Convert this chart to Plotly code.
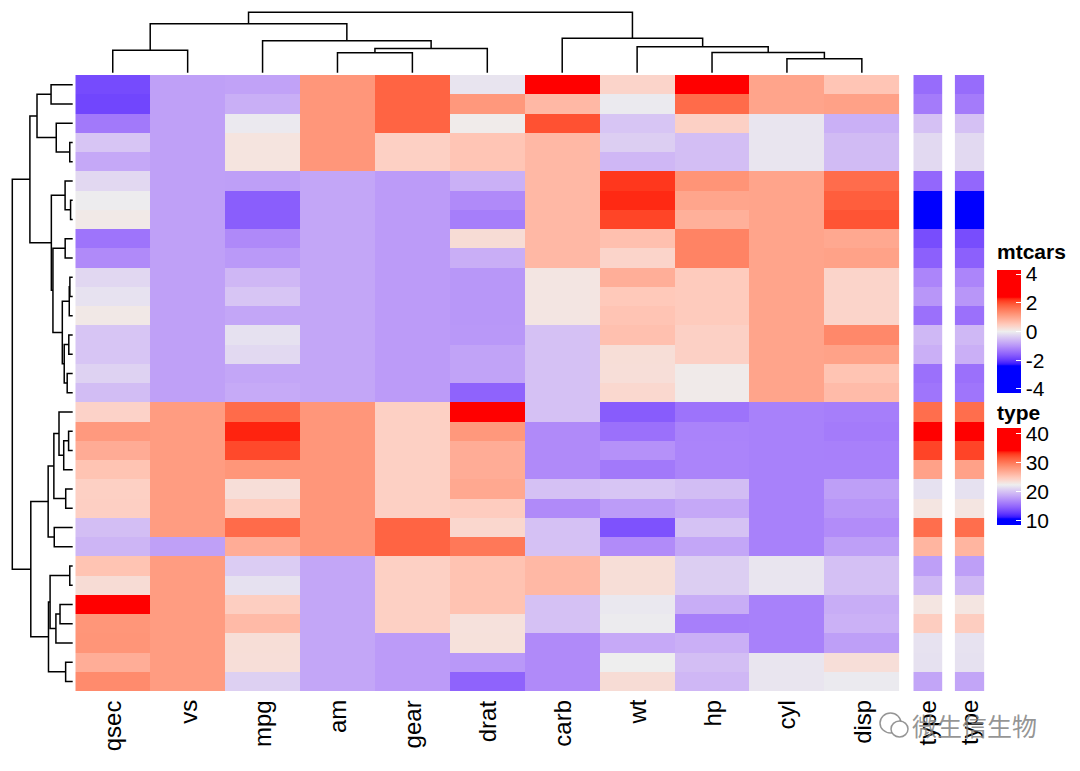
import numpy as np
import plotly.graph_objects as go

W, H = 1080, 771

# ---------------- data (scaled mtcars, rows in displayed order) ----------------
cars = ["Maserati Bora", "Ford Pantera L", "Ferrari Dino", "Mazda RX4 Wag", "Mazda RX4",
        "Chrysler Imperial", "Lincoln Continental", "Cadillac Fleetwood", "Camaro Z28",
        "Duster 360", "Merc 450SE", "Merc 450SL", "Merc 450SLC", "Pontiac Firebird",
        "Hornet Sportabout", "AMC Javelin", "Dodge Challenger", "Honda Civic",
        "Toyota Corolla", "Fiat 128", "Fiat X1-9", "Volvo 142E", "Datsun 710",
        "Lotus Europa", "Porsche 914-2", "Merc 280C", "Merc 280", "Merc 230",
        "Merc 240D", "Toyota Corona", "Hornet 4 Drive", "Valiant"]
columns = ["qsec", "vs", "mpg", "am", "gear", "drat", "carb", "wt", "hp", "cyl", "disp"]

qsec = [-1.82, -1.87, -1.31, -0.46, -0.78, -0.24, -0.02, 0.07, -1.37, -1.12, -0.25, -0.14,
        0.08, -0.45, -0.46, -0.31, -0.55, 0.38, 1.15, 0.91, 0.59, 0.42, 0.43, -0.53, -0.64,
        0.59, 0.25, 2.83, 1.20, 1.21, 0.89, 1.33]
vs = [-0.87, -0.87, -0.87, -0.87, -0.87, -0.87, -0.87, -0.87, -0.87, -0.87, -0.87, -0.87,
      -0.87, -0.87, -0.87, -0.87, -0.87, 1.12, 1.12, 1.12, 1.12, 1.12, 1.12, 1.12, -0.87,
      1.12, 1.12, 1.12, 1.12, 1.12, 1.12, 1.12]
mpg = [-0.85, -0.71, -0.06, 0.15, 0.15, -0.89, -1.61, -1.61, -1.13, -0.96, -0.61, -0.46,
       -0.81, -0.15, -0.23, -0.81, -0.76, 1.71, 2.29, 2.04, 1.20, 0.22, 0.45, 1.71, 0.90,
       -0.38, -0.15, 0.45, 0.72, 0.23, 0.22, -0.33]
am = [1.19, 1.19, 1.19, 1.19, 1.19, -0.81, -0.81, -0.81, -0.81, -0.81, -0.81, -0.81,
      -0.81, -0.81, -0.81, -0.81, -0.81, 1.19, 1.19, 1.19, 1.19, 1.19, 1.19, 1.19, 1.19,
      -0.81, -0.81, -0.81, -0.81, -0.81, -0.81, -0.81]
gear = [1.78, 1.78, 1.78, 0.42, 0.42, -0.93, -0.93, -0.93, -0.93, -0.93, -0.93, -0.93,
        -0.93, -0.93, -0.93, -0.93, -0.93, 0.42, 0.42, 0.42, 0.42, 0.42, 0.42, 1.78, 1.78,
        0.42, 0.42, 0.42, 0.42, -0.93, -0.93, -0.93]
drat = [-0.11, 1.17, 0.04, 0.57, 0.57, -0.69, -1.12, -1.25, 0.25, -0.72, -0.98, -0.98,
        -0.98, -0.97, -0.84, -0.84, -1.56, 2.49, 1.17, 0.90, 0.90, 0.96, 0.47, 0.32, 1.56,
        0.60, 0.60, 0.60, 0.18, 0.19, -0.97, -1.56]
carb = [3.21, 0.74, 1.97, 0.74, 0.74, 0.74, 0.74, 0.74, 0.74, 0.74, 0.12, 0.12, 0.12,
        -0.50, -0.50, -0.50, -0.50, -0.50, -1.12, -1.12, -1.12, -0.50, -1.12, -0.50, -0.50,
        0.74, 0.74, -0.50, -0.50, -1.12, -1.12, -1.12]
wt = [0.36, -0.05, -0.46, -0.35, -0.61, 2.18, 2.26, 2.08, 0.64, 0.36, 0.87, 0.52, 0.58,
      0.64, 0.23, 0.22, 0.31, -1.64, -1.41, -1.04, -1.31, -0.45, -0.92, -1.74, -1.10, 0.23,
      0.23, -0.07, -0.03, -0.77, 0.00, 0.25]
hp = [2.75, 1.71, 0.41, -0.54, -0.54, 1.22, 1.00, 0.85, 1.43, 1.43, 0.49, 0.49, 0.49,
      0.41, 0.41, 0.05, 0.05, -1.38, -1.19, -1.18, -1.18, -0.55, -0.78, -0.49, -0.81,
      -0.35, -0.35, -0.73, -1.24, -0.70, -0.54, -0.61]
cyl = [1.01, 1.01, -0.10, -0.10, -0.10, 1.01, 1.01, 1.01, 1.01, 1.01, 1.01, 1.01, 1.01,
       1.01, 1.01, 1.01, 1.01, -1.22, -1.22, -1.22, -1.22, -1.22, -1.22, -1.22, -1.22,
       -0.10, -0.10, -1.22, -1.22, -1.22, -0.10, -0.10]
disp = [0.57, 1.05, -0.69, -0.57, -0.57, 1.69, 1.85, 1.95, 0.96, 1.04, 0.36, 0.36, 0.36,
        1.37, 1.04, 0.59, 0.70, -1.25, -1.29, -1.23, -1.22, -0.89, -0.99, -1.09, -0.89,
        -0.51, -0.51, -0.73, -0.68, -0.89, 0.22, -0.05]
type_mpg = [15.0, 15.8, 19.7, 21.0, 21.0, 14.7, 10.4, 10.4, 13.3, 14.3, 16.4, 17.3, 15.2,
            19.2, 18.7, 15.2, 15.5, 30.4, 33.9, 32.4, 27.3, 21.4, 22.8, 30.4, 26.0, 17.8,
            19.2, 22.8, 24.4, 21.5, 21.4, 18.1]

mt_ticks = [4, 2, 0, -2, -4]
type_ticks = [40, 30, 20, 10]

Z = np.array([qsec, vs, mpg, am, gear, drat, carb, wt, hp, cyl, disp]).T  # 32 x 11
n_rows, n_cols = Z.shape

# ---------------- colour ramps (LAB interpolation like colorRamp2) ----------------
_M = np.array([[0.4124564, 0.3575761, 0.1804375],
               [0.2126729, 0.7151522, 0.0721750],
               [0.0193339, 0.1191920, 0.9503041]])
_WP = np.array([0.95047, 1.0, 1.08883])


def hex_to_rgb(h):
    h = h.lstrip("#")
    return np.array([int(h[i:i + 2], 16) for i in (0, 2, 4)], dtype=float)


def rgb_to_lab(rgb):
    c = rgb / 255.0
    lin = np.where(c <= 0.04045, c / 12.92, ((c + 0.055) / 1.055) ** 2.4)
    t = (_M @ lin) / _WP
    d = 6 / 29
    f = np.where(t > d ** 3, np.cbrt(t), t / (3 * d * d) + 4 / 29)
    return np.array([116 * f[1] - 16, 500 * (f[0] - f[1]), 200 * (f[1] - f[2])])


def lab_to_css(lab):
    L, a, b = lab
    fy = (L + 16) / 116
    f = np.array([fy + a / 500, fy, fy - b / 200])
    d = 6 / 29
    t = np.where(f > d, f ** 3, 3 * d * d * (f - 4 / 29))
    lin = np.clip(np.linalg.inv(_M) @ (t * _WP), 0, 1)
    c = np.where(lin <= 0.0031308, 12.92 * lin, 1.055 * lin ** (1 / 2.4) - 0.055)
    c = np.round(np.clip(c, 0, 1) * 255).astype(int)
    return "rgb(%d,%d,%d)" % tuple(c)


def lab_scale(breaks, cols, cmin, cmax, n=30):
    labs = [rgb_to_lab(hex_to_rgb(c)) for c in cols]
    stops = [[0.0, lab_to_css(labs[0])]]
    for s in range(len(breaks) - 1):
        for k in range(0 if s == 0 else 1, n + 1):
            t = k / n
            v = breaks[s] + t * (breaks[s + 1] - breaks[s])
            stops.append([(v - cmin) / (cmax - cmin), lab_to_css(labs[s] * (1 - t) + labs[s + 1] * t)])
    stops.append([1.0, lab_to_css(labs[-1])])
    return stops


ramp_cols = ["#0000FF", "#EEEEEE", "#FF0000"]
lim = float(np.quantile(np.abs(Z), 0.99))
mt_min, mt_max = -4.28, 4.28
cs_mt = lab_scale([-lim, 0, lim], ramp_cols, mt_min, mt_max)
tmin, tmax = min(type_mpg), max(type_mpg)
ty_min, ty_max = 8.27, 41.73
cs_ty = lab_scale([tmin, (tmin + tmax) / 2, tmax], ramp_cols, ty_min, ty_max)


# ---------------- hierarchical clustering (complete linkage, euclidean) ----------------
def complete_linkage(X):
    D = np.sqrt(((X[:, None, :] - X[None, :, :]) ** 2).sum(-1))
    members = {i: [i] for i in range(len(X))}
    height = {i: 0.0 for i in range(len(X))}
    children = {}
    nid = len(X)
    while len(members) > 1:
        keys = list(members)
        best = None
        for a in range(len(keys)):
            for b in range(a + 1, len(keys)):
                d = D[np.ix_(members[keys[a]], members[keys[b]])].max()
                if best is None or d < best[0]:
                    best = (d, keys[a], keys[b])
        d, a, b = best
        members[nid] = members.pop(a) + members.pop(b)
        children[nid] = (a, b)
        height[nid] = d
        nid += 1
    return children, height, nid - 1


def dendro(X):
    children, height, root = complete_linkage(X)
    n = len(X)
    pos = {i: float(i) for i in range(n)}
    P, Hh = [], []

    def place(node):
        if node < n:
            return pos[node]
        a, b = children[node]
        pa, pb = place(a), place(b)
        h = height[node]
        P.extend([pa, pa, pb, pb, None])
        Hh.extend([height[a], h, h, height[b], None])
        pos[node] = (pa + pb) / 2
        return pos[node]

    place(root)
    return P, Hh, height[root]


row_p, row_h, row_max = dendro(Z)
col_p, col_h, col_max = dendro(Z.T)

# ---------------- geometry (pixels -> paper) ----------------
def px_x(p):
    return p / W


def px_y(p):
    return 1 - p / H


hm_x = [px_x(75.3), px_x(899.3)]
hm_y = [px_y(691), px_y(75)]
t1_x = [px_x(913.3), px_x(942.6)]
t2_x = [px_x(954.7), px_x(984.2)]
den_lo, den_hi = 12.3, 72.7  # pixel positions of root and leaves
span = den_hi - den_lo

fig = go.Figure()

fig.add_trace(go.Heatmap(z=Z, x=list(range(n_cols)), y=list(range(n_rows)),
                         coloraxis="coloraxis", xaxis="x", yaxis="y",
                         customdata=np.array([[c] * n_cols for c in cars]),
                         hovertemplate="%{customdata}<br>%{z}<extra></extra>"))
fig.add_trace(go.Heatmap(z=[[v] for v in type_mpg], x=[0], y=list(range(n_rows)),
                         coloraxis="coloraxis2", xaxis="x2", yaxis="y"))
fig.add_trace(go.Heatmap(z=[[v] for v in type_mpg], x=[0], y=list(range(n_rows)),
                         coloraxis="coloraxis2", xaxis="x3", yaxis="y"))

fig.add_trace(go.Scatter(x=row_h, y=row_p, mode="lines", xaxis="x4", yaxis="y",
                         line=dict(color="black", width=1.5), hoverinfo="skip"))
fig.add_trace(go.Scatter(x=col_p, y=col_h, mode="lines", xaxis="x", yaxis="y2",
                         line=dict(color="black", width=1.5), hoverinfo="skip"))

label_font = dict(family="Arial, Liberation Sans, sans-serif", size=24, color="black")
annotations = []
for i, c in enumerate(columns):
    annotations.append(dict(x=i, y=px_y(698), xref="x", yref="paper", text=c,
                            textangle=-90, xanchor="center", yanchor="top",
                            showarrow=False, font=label_font))
for ax in ("x2", "x3"):
    annotations.append(dict(x=0, y=px_y(698), xref=ax, yref="paper", text="type",
                            textangle=-90, xanchor="center", yanchor="top",
                            showarrow=False, font=label_font))
title_font = dict(family="Arial, Liberation Sans, sans-serif", size=21, color="black")
annotations.append(dict(x=px_x(995), y=px_y(238), xref="paper", yref="paper",
                        text="<b>mtcars</b>", xanchor="left", yanchor="top",
                        showarrow=False, font=title_font))
annotations.append(dict(x=px_x(995), y=px_y(399), xref="paper", yref="paper",
                        text="<b>type</b>", xanchor="left", yanchor="top",
                        showarrow=False, font=title_font))
annotations.append(dict(x=px_x(910), y=px_y(725), xref="paper", yref="paper",
                        text="微生信生物", xanchor="left", yanchor="middle",
                        showarrow=False,
                        font=dict(family="Noto Sans CJK SC", size=25,
                                  color="rgba(130,130,130,0.85)")))

shapes = [
    dict(type="circle", xref="paper", yref="paper", x0=px_x(880), x1=px_x(901),
         y0=px_y(733), y1=px_y(713), line=dict(color="rgba(130,130,130,0.85)", width=1.5)),
    dict(type="circle", xref="paper", yref="paper", x0=px_x(891), x1=px_x(908),
         y0=px_y(737), y1=px_y(721), line=dict(color="rgba(130,130,130,0.85)", width=1.5),
         fillcolor="white"),
]

tick_font = dict(family="Arial, Liberation Sans, sans-serif", size=21, color="black")
fig.update_layout(
    width=W, height=H, autosize=False, margin=dict(l=0, r=0, t=0, b=0),
    paper_bgcolor="white", plot_bgcolor="white", showlegend=False,
    xaxis=dict(domain=hm_x, range=[-0.5, n_cols - 0.5], visible=False, anchor="y"),
    yaxis=dict(domain=hm_y, range=[n_rows - 0.5, -0.5], visible=False, anchor="x"),
    xaxis2=dict(domain=t1_x, range=[-0.5, 0.5], visible=False, anchor="y"),
    xaxis3=dict(domain=t2_x, range=[-0.5, 0.5], visible=False, anchor="y"),
    xaxis4=dict(domain=[0, px_x(75)], visible=False, anchor="y",
                range=[row_max * den_hi / span, -row_max * (75 - den_hi) / span]),
    yaxis2=dict(domain=[px_y(75), 1], visible=False, anchor="x",
                range=[-col_max * (75 - den_hi) / span, col_max * den_hi / span]),
    coloraxis=dict(cmin=mt_min, cmax=mt_max, colorscale=cs_mt,
                   colorbar=dict(x=px_x(997), xanchor="left", xref="paper",
                                 y=px_y(270), yanchor="top", yref="paper",
                                 len=123, lenmode="pixels", thickness=24,
                                 xpad=0, ypad=0, outlinewidth=0,
                                 tickvals=mt_ticks, ticktext=[str(v) for v in mt_ticks],
                                 ticks="inside", ticklen=5, tickcolor="white", tickwidth=1,
                                 tickfont=tick_font)),
    coloraxis2=dict(cmin=ty_min, cmax=ty_max, colorscale=cs_ty,
                    colorbar=dict(x=px_x(997), xanchor="left", xref="paper",
                                  y=px_y(428.3), yanchor="top", yref="paper",
                                  len=96.7, lenmode="pixels", thickness=24,
                                  xpad=0, ypad=0, outlinewidth=0,
                                  tickvals=type_ticks, ticktext=[str(v) for v in type_ticks],
                                  ticks="inside", ticklen=5, tickcolor="white", tickwidth=1,
                                  tickfont=tick_font)),
    annotations=annotations, shapes=shapes,
)

fig.write_html("out.html", config={"displayModeBar": False},
               post_script="document.body.style.margin='0px';document.body.style.padding='0px';")
